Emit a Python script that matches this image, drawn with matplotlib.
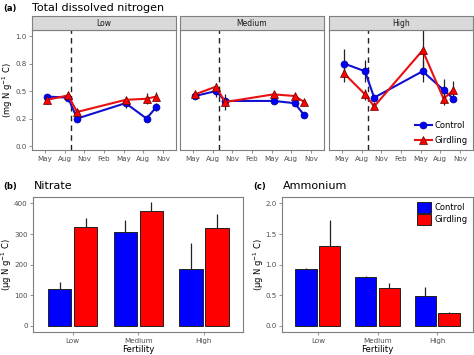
import matplotlib.pyplot as plt

# Time axis: months since May (0 = May, 3 = Aug, ...)
months = [0.3, 3.5, 4.9, 12.3, 15.5, 17.0]
month_ticks = [0, 3, 6, 9, 12, 15, 18]
month_labels = ['May', 'Aug', 'Nov', 'Feb', 'May', 'Aug', 'Nov']
girdle_month = 3.96

fertility = ['Low', 'Medium', 'High']

# Total dissolved nitrogen (mg N g-1 C)
tdn_control = {
    'Low':    [0.45, 0.44, 0.25, 0.39, 0.25, 0.355],
    'Medium': [0.455, 0.50, 0.41, 0.41, 0.39, 0.28],
    'High':   [0.75, 0.68, 0.44, 0.68, 0.51, 0.43],
}
tdn_control_err = {
    'Low':    [0.02, 0.02, 0.02, 0.04, 0.03, 0.04],
    'Medium': [0.02, 0.05, 0.03, 0.03, 0.03, 0.02],
    'High':   [0.13, 0.10, 0.02, 0.10, 0.10, 0.02],
}
tdn_girdling = {
    'Low':    [0.42, 0.46, 0.31, 0.42, 0.43, 0.45],
    'Medium': [0.47, 0.54, 0.40, 0.47, 0.455, 0.40],
    'High':   [0.66, 0.47, 0.36, 0.87, 0.43, 0.51],
}
tdn_girdling_err = {
    'Low':    [0.04, 0.03, 0.03, 0.03, 0.05, 0.04],
    'Medium': [0.03, 0.03, 0.07, 0.02, 0.02, 0.02],
    'High':   [0.08, 0.05, 0.02, 0.20, 0.06, 0.08],
}

# Nitrate and ammonium (ug N g-1 C)
nitrate_control = [121, 307, 185]
nitrate_control_err = [23, 40, 87]
nitrate_girdling = [323, 375, 320]
nitrate_girdling_err = [31, 31, 47]

ammonium_control = [0.93, 0.80, 0.485]
ammonium_control_err = [0.02, 0.01, 0.15]
ammonium_girdling = [1.30, 0.62, 0.21]
ammonium_girdling_err = [0.43, 0.08, 0.02]

BLUE = '#0000ff'
RED = '#ff0000'
GREY = '#4d4d4d'
BORDER = '#7f7f7f'

W, H = 474, 355
fig = plt.figure(figsize=(W / 100, H / 100), dpi=100)


def px_axes(x0, y0, x1, y1):
    return fig.add_axes([x0 / W, 1 - y1 / H, (x1 - x0) / W, (y1 - y0) / H])


def style(ax):
    for s in ax.spines.values():
        s.set_color(BORDER)
        s.set_linewidth(0.8)
    ax.tick_params(colors=BORDER, labelcolor=GREY, labelsize=5.1,
                   length=2.5, width=0.6, pad=1.5)


def place_ylabel(ax, text, x_px, x0, x1):
    ax.set_ylabel(text, fontsize=6)
    ax.yaxis.label.set_va('center')
    ax.yaxis.set_label_coords((x_px - x0) / (x1 - x0), 0.5)


# ---- (a) faceted time series ----
panels = [('Low', 32, 176), ('Medium', 180, 324), ('High', 329, 473)]
for i, (name, x0, x1) in enumerate(panels):
    ax = px_axes(x0, 30, x1, 150)
    style(ax)
    ax.axvline(girdle_month, color='#222222', ls=(0, (4, 3)), lw=1.0, zorder=1)
    ax.errorbar(months, tdn_control[name], yerr=tdn_control_err[name],
                fmt='none', ecolor='#222222', elinewidth=0.9, zorder=2)
    ax.errorbar(months, tdn_girdling[name], yerr=tdn_girdling_err[name],
                fmt='none', ecolor='#222222', elinewidth=0.9, zorder=2)
    ax.plot(months, tdn_control[name], color='#1010d0', lw=1.5, marker='o',
            ms=5, mfc=BLUE, mec='#000080', mew=0.5, zorder=3, label='Control')
    ax.plot(months, tdn_girdling[name], color='#e81010', lw=1.5, marker='^',
            ms=5.5, mfc=RED, mec='#600000', mew=0.5, zorder=4, label='Girdling')
    ax.set_xlim(-2, 20)
    ax.set_ylim(-0.036, 1.055)
    ax.set_xticks(month_ticks)
    ax.set_xticklabels(month_labels)
    ax.set_yticks([0, 0.25, 0.5, 0.75, 1.0])
    if i == 0:
        ax.set_yticklabels(['0.0', '0.2', '0.5', '0.8', '1.0'])
        place_ylabel(ax, '(mg N g$^{-1}$ C)', 8, x0, x1)
    else:
        ax.set_yticklabels([])
        ax.tick_params(axis='y', length=0)
    # strip
    sx = px_axes(x0, 16, x1, 30)
    sx.set_xticks([])
    sx.set_yticks([])
    sx.set_facecolor('#d9d9d9')
    for s in sx.spines.values():
        s.set_color(BORDER)
        s.set_linewidth(0.8)
    sx.text(0.5, 0.5, name, ha='center', va='center', fontsize=5.5,
            color='#1a1a1a', transform=sx.transAxes)
    if name == 'High':
        ax.legend(loc='lower right', fontsize=6, frameon=False,
                  handlelength=2.0, handletextpad=0.4, labelspacing=0.7,
                  borderaxespad=0.2)

fig.text(3 / W, 1 - 9 / H, '(a)', fontsize=6, fontweight='bold', va='center')
fig.text(32 / W, 1 - 8 / H, 'Total dissolved nitrogen', fontsize=8, va='center')


# ---- (b) and (c) bar charts ----
def bars(ax, ctrl, ctrl_err, gird, gird_err, x0, x1, ylab_x):
    style(ax)
    x = range(1, len(fertility) + 1)
    xc = [v - 0.197 for v in x]
    xg = [v + 0.197 for v in x]
    ax.bar(xc, ctrl, width=0.355, color=BLUE, edgecolor='#222222', lw=0.7,
           label='Control', zorder=2)
    ax.bar(xg, gird, width=0.355, color=RED, edgecolor='#222222', lw=0.7,
           label='Girdling', zorder=2)
    ax.errorbar(xc, ctrl, yerr=[[0] * 3, ctrl_err], fmt='none',
                ecolor='#222222', elinewidth=0.9, zorder=1)
    ax.errorbar(xg, gird, yerr=[[0] * 3, gird_err], fmt='none',
                ecolor='#222222', elinewidth=0.9, zorder=1)
    ax.set_xlim(0.4, 3.6)
    ax.set_xticks(list(x))
    ax.set_xticklabels(fertility)
    ax.set_xlabel('Fertility', fontsize=6.2)
    ax.xaxis.label.set_va('center')
    ax.xaxis.set_label_coords(0.5, (332.3 - 349) / 135)
    place_ylabel(ax, '(\u03bcg N g$^{-1}$ C)', ylab_x, x0, x1)


axb = px_axes(33.3, 197.3, 243.3, 332.3)
bars(axb, nitrate_control, nitrate_control_err, nitrate_girdling,
     nitrate_girdling_err, 33.3, 243.3, 7)
axb.set_ylim(-20.6, 420)
axb.set_yticks([0, 100, 200, 300, 400])

axc = px_axes(282, 197.3, 473, 332.3)
bars(axc, ammonium_control, ammonium_control_err, ammonium_girdling,
     ammonium_girdling_err, 282, 473, 259)
axc.set_ylim(-0.103, 2.1)
axc.set_yticks([0, 0.5, 1.0, 1.5, 2.0])
axc.set_yticklabels(['0.0', '0.5', '1.0', '1.5', '2.0'])
axc.legend(loc='upper right', fontsize=6, frameon=False, handlelength=1.6,
           handleheight=1.6, handletextpad=0.5, labelspacing=0.1,
           borderaxespad=0.2)

fig.text(3 / W, 1 - 187 / H, '(b)', fontsize=6, fontweight='bold', va='center')
fig.text(34 / W, 1 - 186 / H, 'Nitrate', fontsize=8, va='center')
fig.text(253 / W, 1 - 187 / H, '(c)', fontsize=6, fontweight='bold', va='center')
fig.text(283 / W, 1 - 186 / H, 'Ammonium', fontsize=8, va='center')

fig.savefig('out.png', dpi=100)
